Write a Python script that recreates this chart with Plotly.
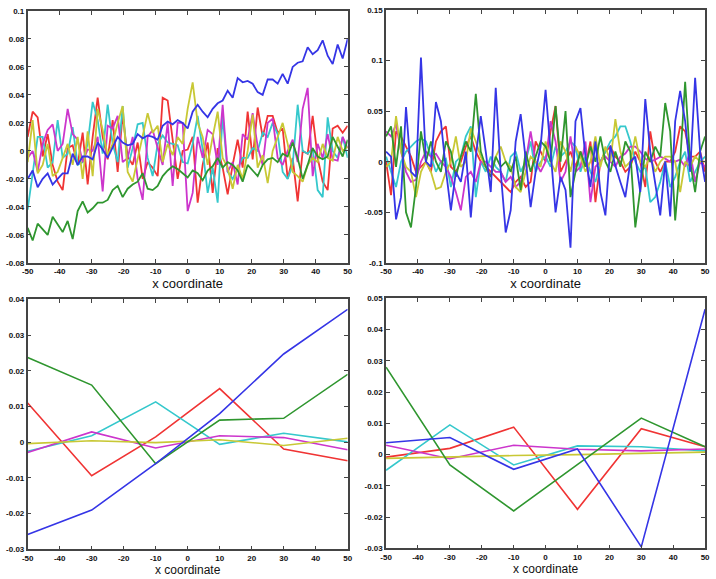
import numpy as np
import plotly.graph_objects as go

# ---------------- data ----------------
x_dense = np.linspace(-50, 50, 65).tolist()
x_coarse = [-50, -30, -10, 10, 30, 50]

tl_blue = [-0.020, -0.014, -0.026, -0.020, -0.016, -0.024, -0.020, -0.016, -0.016, -0.002,
           -0.010, -0.004, -0.004, -0.006, 0.006, 0.001, -0.005, 0.002, 0.010, 0.006,
           0.004, 0.005, 0.012, 0.009, 0.011, 0.010, 0.008, 0.018, 0.021, 0.019,
           0.022, 0.020, 0.016, 0.028, 0.033, 0.028, 0.024, 0.030, 0.034, 0.036,
           0.043, 0.038, 0.052, 0.049, 0.050, 0.048, 0.042, 0.040, 0.051, 0.051,
           0.048, 0.055, 0.048, 0.060, 0.063, 0.064, 0.074, 0.069, 0.072, 0.079,
           0.068, 0.062, 0.076, 0.066, 0.080]
tl_green = [-0.055, -0.064, -0.052, -0.056, -0.060, -0.047, -0.053, -0.058, -0.050, -0.063,
            -0.043, -0.036, -0.044, -0.041, -0.037, -0.037, -0.035, -0.028, -0.025, -0.033,
            -0.027, -0.024, -0.022, -0.016, -0.027, -0.028, -0.025, -0.018, -0.014, -0.011,
            -0.013, -0.016, -0.019, -0.014, -0.016, -0.021, -0.014, -0.011, -0.005, -0.012,
            -0.008, -0.010, -0.014, -0.022, -0.010, -0.014, -0.018, -0.010, -0.006, -0.005,
            -0.008, -0.002, -0.004, 0.006, -0.005, -0.020, -0.010, 0.002, -0.004, -0.006,
            -0.004, 0.010, 0.003, -0.004, 0.008]
tl_red = [0.010, 0.028, 0.024, -0.004, 0.012, -0.010, -0.022, -0.028, 0.002, 0.004,
          -0.010, 0.013, -0.024, 0.010, 0.038, 0.010, -0.006, 0.022, -0.015, 0.026,
          -0.004, -0.010, 0.006, -0.020, -0.008, -0.012, -0.018, 0.038, 0.036, 0.006,
          -0.020, 0.000, 0.001, 0.010, -0.037, -0.010, 0.006, -0.030, 0.002, -0.012,
          -0.031, -0.010, 0.008, -0.012, 0.028, -0.006, 0.031, 0.010, 0.025, 0.025,
          0.013, 0.016, -0.020, -0.005, -0.036, 0.000, -0.002, 0.025, -0.005, -0.022,
          -0.028, 0.016, 0.018, 0.013, 0.018]
tl_cyan = [-0.042, -0.015, 0.010, 0.010, -0.012, -0.008, 0.022, -0.005, -0.002, 0.017,
           -0.010, -0.008, 0.005, 0.035, 0.022, -0.002, 0.033, 0.005, -0.008, 0.032,
           -0.012, 0.002, 0.019, 0.020, -0.005, -0.018, 0.005, 0.011, 0.006, 0.005,
           0.004, -0.008, -0.009, 0.005, 0.025, 0.001, -0.030, -0.012, -0.037, 0.025,
           -0.015, -0.020, -0.012, -0.005, -0.005, 0.002, 0.000, 0.013, 0.010, 0.020,
           0.012, -0.015, -0.020, -0.010, 0.033, 0.000, -0.002, 0.002, -0.028, -0.033,
           0.024, 0.000, -0.005, 0.010, -0.005]
tl_magenta = [-0.005, 0.000, -0.015, 0.005, 0.015, 0.019, 0.000, 0.005, 0.030, 0.012,
              0.008, -0.008, 0.001, 0.000, 0.010, -0.029, 0.018, 0.016, 0.025, -0.008,
              -0.005, 0.010, -0.020, -0.035, 0.010, 0.015, 0.002, -0.010, 0.020, -0.025,
              0.020, 0.020, -0.043, -0.030, 0.010, -0.005, 0.015, 0.012, -0.010, 0.033,
              -0.015, -0.008, -0.024, 0.012, 0.008, 0.027, 0.003, -0.010, 0.020, 0.023,
              -0.005, -0.010, 0.000, 0.008, -0.008, 0.030, 0.045, -0.018, 0.005, -0.005,
              0.012, -0.006, -0.007, 0.010, 0.002]
tl_yellow = [-0.008, 0.022, -0.016, -0.010, 0.005, -0.018, -0.015, -0.005, 0.005, -0.010,
             0.010, -0.020, 0.014, -0.018, 0.030, 0.015, -0.003, 0.005, 0.020, 0.032,
             -0.015, -0.022, -0.005, 0.012, 0.027, 0.013, 0.018, -0.008, 0.005, -0.003,
             0.010, 0.005, 0.030, 0.049, 0.020, 0.010, -0.010, 0.010, 0.028, -0.005,
             -0.012, -0.027, -0.010, -0.020, 0.000, 0.026, -0.012, -0.003, -0.023, 0.000,
             0.010, 0.020, 0.005, -0.015, -0.018, -0.022, -0.010, -0.005, -0.008, 0.005,
             -0.005, -0.007, 0.010, 0.000, 0.003]

tr_blue = [0.010, 0.005, -0.057, -0.035, 0.054, -0.010, -0.015, 0.103, 0.000, -0.005,
           0.059, 0.040, -0.008, -0.048, -0.010, -0.020, 0.010, -0.055, 0.005, 0.045,
           0.010, -0.030, 0.073, -0.010, -0.070, -0.048, 0.020, 0.047, 0.003, -0.045,
           -0.010, 0.015, 0.071, 0.010, -0.050, -0.015, -0.028, -0.085, 0.040, 0.053,
           0.005, -0.025, 0.020, -0.030, -0.053, 0.016, -0.004, -0.020, -0.035, 0.000,
           0.005, -0.030, 0.062, 0.010, -0.020, -0.053, 0.000, -0.054, 0.040, 0.070,
           0.040, -0.010, 0.083, 0.010, -0.020]
tr_green = [0.025, 0.035, -0.005, 0.035, -0.050, -0.065, -0.025, 0.030, 0.000, 0.020,
            0.000, -0.010, 0.020, 0.010, -0.015, 0.005, 0.020, 0.010, 0.067, 0.010,
            -0.005, -0.015, 0.005, -0.005, 0.000, -0.010, 0.005, -0.028, 0.010, -0.010,
            0.005, 0.020, 0.015, 0.000, 0.055, 0.000, 0.050, -0.035, -0.010, 0.010,
            -0.005, 0.015, 0.000, 0.025, 0.000, -0.010, 0.010, -0.005, 0.020, 0.010,
            -0.065, -0.030, 0.010, 0.000, 0.015, 0.005, 0.058, 0.030, -0.058, 0.000,
            0.079, 0.000, -0.030, 0.010, 0.025]
tr_red = [0.000, -0.033, 0.030, 0.025, 0.015, 0.005, -0.010, -0.005, 0.000, -0.010,
          0.020, 0.030, 0.035, -0.005, -0.010, 0.000, 0.015, 0.025, 0.010, 0.000,
          -0.005, -0.010, -0.015, -0.020, -0.025, -0.030, -0.020, -0.015, -0.025, -0.020,
          0.020, 0.010, 0.000, 0.030, 0.055, -0.010, 0.000, 0.010, -0.005, 0.010,
          -0.005, 0.020, -0.040, 0.000, 0.010, 0.015, 0.005, 0.000, -0.010, -0.005,
          0.010, 0.000, -0.025, 0.030, 0.000, -0.010, 0.000, 0.000, 0.010, 0.035,
          0.030, 0.005, 0.005, 0.010, -0.010]
tr_cyan = [0.005, -0.010, -0.025, 0.000, 0.010, 0.015, 0.020, 0.023, 0.020, 0.005,
           -0.010, 0.000, 0.003, -0.025, 0.000, 0.005, 0.025, 0.035, -0.035, 0.000,
           -0.010, 0.005, -0.005, -0.010, -0.020, 0.005, 0.010, -0.010, 0.000, 0.020,
           -0.010, 0.000, 0.005, -0.005, 0.015, 0.005, 0.010, 0.020, 0.015, -0.010,
           0.005, -0.010, -0.020, 0.000, 0.010, 0.020, 0.025, 0.035, 0.035, 0.020,
           0.000, -0.010, -0.005, -0.040, -0.035, -0.020, 0.000, -0.025, -0.015, 0.000,
           0.010, -0.020, -0.010, 0.000, 0.005]
tr_magenta = [0.030, 0.025, 0.037, 0.010, -0.010, -0.020, -0.018, 0.000, 0.010, 0.005,
              0.008, 0.000, -0.005, -0.015, -0.030, -0.048, -0.015, -0.010, -0.020, 0.000,
              0.000, -0.005, -0.010, -0.010, -0.020, -0.015, -0.025, -0.020, 0.000, 0.030,
              0.000, -0.010, 0.000, 0.040, 0.020, -0.020, -0.010, 0.025, -0.010, -0.005,
              0.020, -0.040, -0.005, 0.000, 0.005, 0.000, -0.005, 0.005, 0.008, 0.015,
              0.015, 0.010, 0.003, 0.000, 0.002, 0.005, 0.003, 0.000, 0.000, 0.002,
              -0.005, 0.010, -0.020, 0.000, -0.005]
tr_yellow = [-0.005, 0.000, 0.045, 0.010, -0.005, -0.010, -0.035, -0.010, 0.000, -0.010,
             -0.027, -0.025, -0.010, 0.000, 0.025, -0.005, 0.000, 0.033, 0.020, 0.005,
             -0.005, -0.015, 0.005, 0.015, 0.000, -0.005, -0.025, -0.030, -0.010, 0.005,
             0.000, -0.005, 0.020, 0.000, -0.010, 0.020, 0.010, -0.010, 0.015, 0.005,
             -0.010, 0.000, 0.025, -0.005, 0.015, 0.000, 0.042, 0.010, -0.005, 0.000,
             0.025, 0.000, -0.005, 0.005, -0.010, 0.000, 0.005, 0.005, 0.000, -0.030,
             0.000, -0.005, 0.005, 0.000, 0.000]

bl_blue = [-0.0258, -0.0190, -0.0060, 0.0080, 0.0247, 0.0372]
bl_green = [0.0237, 0.0160, -0.0060, 0.0062, 0.0067, 0.0190]
bl_red = [0.0110, -0.0094, 0.0015, 0.0150, -0.0019, -0.0052]
bl_cyan = [-0.0025, 0.0018, 0.0113, -0.0006, 0.0025, 0.0001]
bl_magenta = [-0.0029, 0.0029, -0.0016, 0.0018, 0.0013, -0.0021]
bl_yellow = [-0.0004, 0.0004, -0.0001, 0.0007, -0.0009, 0.0011]

br_blue = [0.0038, 0.0055, -0.0047, 0.0018, -0.0295, 0.0465]
br_green = [0.0280, -0.0033, -0.0180, -0.0032, 0.0117, 0.0025]
br_red = [-0.0008, 0.0020, 0.0088, -0.0175, 0.0083, 0.0025]
br_cyan = [-0.0050, 0.0095, -0.0033, 0.0028, 0.0025, 0.0012]
br_magenta = [0.0030, -0.0013, 0.0030, 0.0017, 0.0012, 0.0018]
br_yellow = [-0.0012, -0.0007, -0.0003, 0.0000, 0.0004, 0.0008]

x_ticks = [-50, -40, -30, -20, -10, 0, 10, 20, 30, 40, 50]
x_tick_text = ["-50", "-40", "-30", "-20", "-10", "0", "10", "20", "30", "40", "50"]
tl_yticks = [-0.08, -0.06, -0.04, -0.02, 0, 0.02, 0.04, 0.06, 0.08, 0.1]
tl_ytext = ["-0.08", "-0.06", "-0.04", "-0.02", "0", "0.02", "0.04", "0.06", "0.08", "0.1"]
tr_yticks = [-0.1, -0.05, 0, 0.05, 0.1, 0.15]
tr_ytext = ["-0.1", "-0.05", "0", "0.05", "0.1", "0.15"]
bl_yticks = [-0.03, -0.02, -0.01, 0, 0.01, 0.02, 0.03, 0.04]
bl_ytext = ["-0.03", "-0.02", "-0.01", "0", "0.01", "0.02", "0.03", "0.04"]
br_yticks = [-0.03, -0.02, -0.01, 0, 0.01, 0.02, 0.03, 0.04, 0.05]
br_ytext = ["-0.03", "-0.02", "-0.01", "0", "0.01", "0.02", "0.03", "0.04", "0.05"]
x_title = "x coordinate"

# ---------------- styling ----------------
colors = {"blue": "#3535e6", "green": "#2f962f", "red": "#f03434",
          "cyan": "#35c8cc", "magenta": "#cc35cc", "yellow": "#c8c835"}
order = ["red", "cyan", "magenta", "yellow", "green", "blue"]

panels = [
    ("x", "y", x_dense, {"blue": tl_blue, "green": tl_green, "red": tl_red, "cyan": tl_cyan,
                         "magenta": tl_magenta, "yellow": tl_yellow}, 1.8),
    ("x2", "y2", x_dense, {"blue": tr_blue, "green": tr_green, "red": tr_red, "cyan": tr_cyan,
                           "magenta": tr_magenta, "yellow": tr_yellow}, 1.8),
    ("x3", "y3", x_coarse, {"blue": bl_blue, "green": bl_green, "red": bl_red, "cyan": bl_cyan,
                            "magenta": bl_magenta, "yellow": bl_yellow}, 1.6),
    ("x4", "y4", x_coarse, {"blue": br_blue, "green": br_green, "red": br_red, "cyan": br_cyan,
                            "magenta": br_magenta, "yellow": br_yellow}, 1.6),
]

fig = go.Figure()
for xa, ya, xs, series, lw in panels:
    for name in order:
        fig.add_trace(go.Scatter(x=xs, y=series[name], mode="lines", xaxis=xa, yaxis=ya,
                                 line=dict(color=colors[name], width=lw), showlegend=False,
                                 hoverinfo="skip"))

W, H = 716, 579
tick_font = dict(family="Liberation Sans Narrow, Liberation Sans", size=8, color="#111",
                 weight="bold")
common_ax = dict(showline=True, linecolor="#444", linewidth=1.5, mirror="ticks",
                 ticks="inside", ticklen=4, tickcolor="#444", showgrid=False,
                 zeroline=False, tickfont=tick_font)

def xax(domain, anchor, size, standoff):
    return dict(domain=domain, anchor=anchor, range=[-50, 50], tickmode="array",
                tickvals=x_ticks, ticktext=x_tick_text,
                title=dict(text=x_title, font=dict(family="Liberation Sans", size=size, color="#111"),
                           standoff=standoff), **common_ax)

def yax(domain, anchor, rng, tv, tt):
    return dict(domain=domain, anchor=anchor, range=rng, tickmode="array",
                tickvals=tv, ticktext=tt, **common_ax)

xl = [22 / W, 347 / W]
xr = [386 / W, 710 / W]
fig.update_layout(
    width=W, height=H, margin=dict(l=0, r=0, t=0, b=0),
    paper_bgcolor="white", plot_bgcolor="white",
    xaxis=xax(xl, "y", 13, 3),
    yaxis=yax([1 - 263 / H, 1 - 7 / H], "x", [-0.08, 0.1], tl_yticks, tl_ytext),
    xaxis2=xax(xr, "y2", 13, 3),
    yaxis2=yax([1 - 263 / H, 1 - 6 / H], "x2", [-0.1, 0.15], tr_yticks, tr_ytext),
    xaxis3=xax(xl, "y3", 12, 2),
    yaxis3=yax([1 - 554 / H, 1 - 300 / H], "x3", [-0.03, 0.04], bl_yticks, bl_ytext),
    xaxis4=xax(xr, "y4", 12, 2),
    yaxis4=yax([1 - 553 / H, 1 - 299 / H], "x4", [-0.03, 0.05], br_yticks, br_ytext),
)

fig.write_html("out.html")
